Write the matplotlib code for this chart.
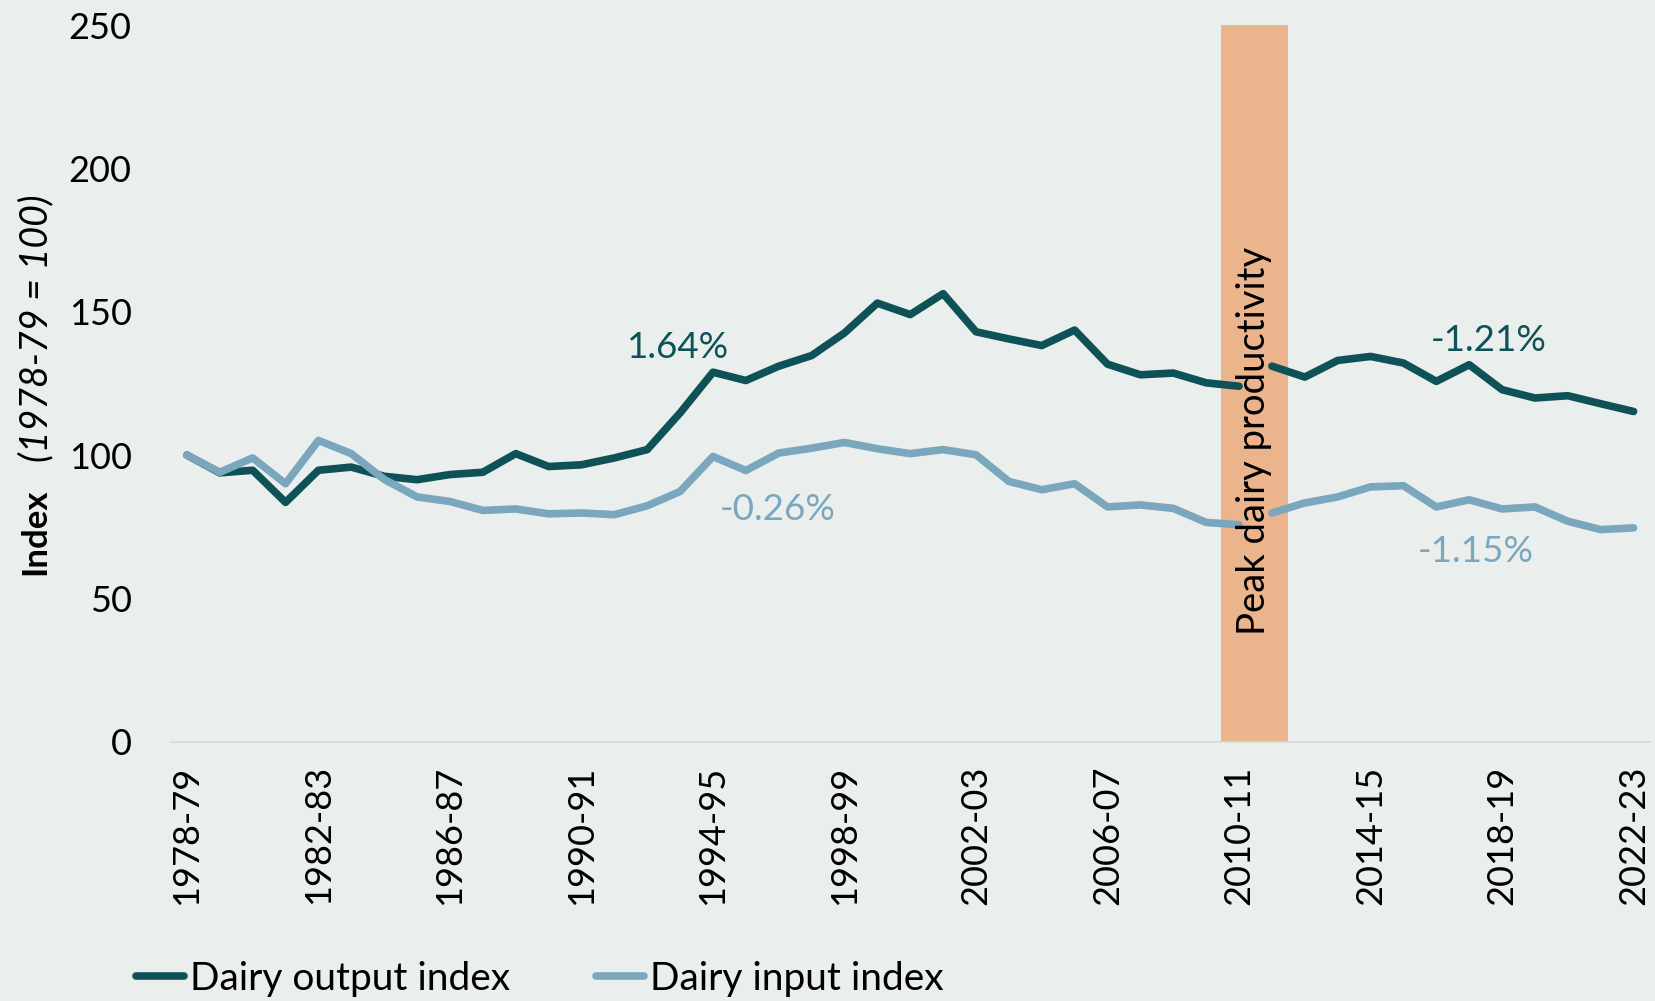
import matplotlib
matplotlib.use('Agg')
import matplotlib.pyplot as plt
import numpy as np

plt.rcParams['font.family'] = ['Lato', 'DejaVu Sans']

years = [f'{y}-{str(y + 1)[-2:]}' for y in range(1978, 2023)]
output_idx = [100, 93.8, 94.7, 83.5, 94.7, 95.8, 92.6, 91.4, 93.2, 94.0,
              100.5, 96.0, 96.6, 99.0, 101.9, 114.7, 128.9, 126.0, 131.0, 134.7,
              142.6, 153.0, 149.0, 156.3, 143.0, 140.5, 138.2, 143.6, 131.7, 128.0,
              128.6, 125.2, 124.0, 131.0, 127.2, 133.0, 134.4, 132.1, 125.7, 131.5,
              122.8, 119.9, 120.7, 117.9, 115.2]
input_idx = [100, 94.0, 99.0, 90.0, 105.1, 100.5, 91.5, 85.4, 83.8, 80.7,
             81.2, 79.5, 79.8, 79.2, 82.3, 87.3, 99.5, 94.6, 100.7, 102.4,
             104.4, 102.2, 100.5, 101.9, 100.1, 90.8, 87.9, 90.0, 81.9, 82.6,
             81.4, 76.5, 75.7, 79.8, 83.3, 85.4, 88.9, 89.3, 81.9, 84.4,
             81.2, 81.9, 76.9, 74.0, 74.6]
peak = 32          # 2010-11, line is broken after this year
growth = {'out_pre': '1.64%', 'in_pre': '-0.26%', 'out_post': '-1.21%', 'in_post': '-1.15%'}

bg = '#EAEFED'
c_out, c_in = '#0E5257', '#7BA7BE'

fig = plt.figure(figsize=(16.55, 10.01), dpi=100, facecolor=bg)
ax = fig.add_axes([0.103, 0.259, 0.894, 0.716], facecolor=bg)
x = np.arange(len(years))

ax.axvspan(31.45, 33.5, ymin=0, ymax=1, color='#ECB48D', zorder=1, lw=0)
ax.text(32.45, 105, 'Peak dairy productivity', rotation=90, ha='center', va='center',
        fontsize=27.5, color='black', zorder=4)

kw = dict(lw=5.5, solid_capstyle='round', solid_joinstyle='round', zorder=3)
ax.plot(x[:peak + 1], output_idx[:peak + 1], color=c_out, label='Dairy output index', **kw)
ax.plot(x[peak + 1:], output_idx[peak + 1:], color=c_out, **kw)
ax.plot(x[:peak + 1], input_idx[:peak + 1], color=c_in, label='Dairy input index', **kw)
ax.plot(x[peak + 1:], input_idx[peak + 1:], color=c_in, **kw)

ax.text(14.95, 137.5, growth['out_pre'], color=c_out, fontsize=26.5, ha='center', va='center')
ax.text(17.96, 81, growth['in_pre'], color=c_in, fontsize=26.5, ha='center', va='center')
ax.text(39.6, 140, growth['out_post'], color=c_out, fontsize=26.5, ha='center', va='center')
ax.text(39.2, 66.3, growth['in_post'], color=c_in, fontsize=26.5, ha='center', va='center')

ax.set_xlim(-0.5, len(years) - 0.5)
ax.set_ylim(0, 250)
ax.set_yticks(range(0, 251, 50))
ax.set_xticks(x[::4])
ax.set_xticklabels(years[::4], rotation=90)
ax.tick_params(axis='both', length=0, labelsize=26, colors='black')
ax.tick_params(axis='x', pad=17)
ax.tick_params(axis='y', pad=28)
for s in ['top', 'right', 'left']:
    ax.spines[s].set_visible(False)
ax.spines['bottom'].set_color('#D9D9D9')
ax.spines['bottom'].set_linewidth(1.2)

fig.text(0.021, 0.4255, 'Index', rotation=90, fontsize=25, fontweight='bold', ha='center', va='bottom')
fig.text(0.022, 0.806, '(1978-79 = 100)', rotation=90, fontsize=27, style='italic', ha='center', va='top')

fig.legend(loc='center left', bbox_to_anchor=(0.082, 0.022), ncol=2, frameon=False,
           fontsize=28, handlelength=1.25, handletextpad=0.15, columnspacing=2.2,
           borderpad=0, borderaxespad=0)

fig.savefig('out.png', facecolor=bg)
